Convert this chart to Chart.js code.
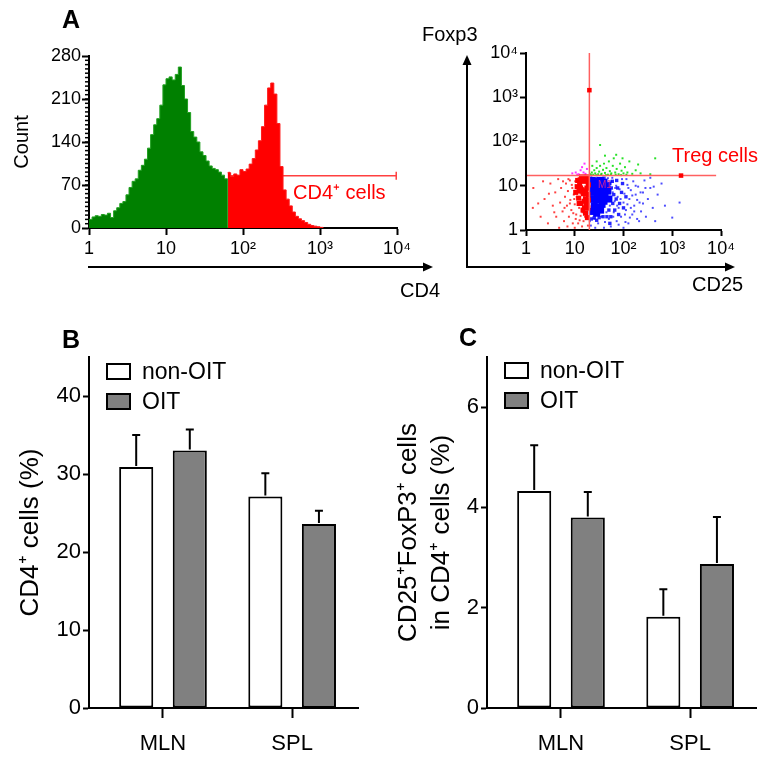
<!DOCTYPE html>
<html>
<head>
<meta charset="utf-8">
<script src="https://cdn.jsdelivr.net/npm/chart.js"></script>
<style>
  body { margin: 0; background: #fff; }
  #wrap { position: relative; width: 769px; height: 760px; overflow: hidden; font-family: "Liberation Sans", Arial, sans-serif; }
  canvas { position: absolute; }
  .panel { position: absolute; font-weight: bold; font-size: 25px; line-height: 1; }
</style>
</head>
<body>
<div id="wrap">
  <canvas id="histChart" width="460" height="300" style="left:0px;top:0px"></canvas>
  <canvas id="dotChart" width="359" height="300" style="left:410px;top:0px"></canvas>
  <canvas id="cd4Chart" width="384" height="460" style="left:0px;top:300px"></canvas>
  <canvas id="tregChart" width="385" height="460" style="left:384px;top:300px"></canvas>
  <div class="panel" style="left:62px;top:7px">A</div>
  <div class="panel" style="left:62px;top:327px">B</div>
  <div class="panel" style="left:459px;top:325px">C</div>
</div>
<script>
const FONT = "'Liberation Sans', Arial, sans-serif";
Chart.defaults.font.family = FONT;
Chart.defaults.color = '#000';

// ---- A left: CD4 histogram, x in decades (0 = 1, 4 = 10^4) ----
const decadeLabels = ['1', '10', '10²', '10³', '10⁴'];
const countTicks = [0, 70, 140, 210, 280];
const binWidth = 0.04;
const greenStart = 0;
const greenCounts = [14, 18, 20, 19, 22, 21, 24, 17, 28, 33, 40, 43, 54, 66, 76, 80, 94, 102, 112, 130,
  152, 168, 178, 200, 233, 243, 246, 241, 250, 262, 232, 210, 188, 157, 148, 140, 124, 118, 109, 101,
  97, 95, 91, 86, 80];
const redStart = 1.8;
const redCounts = [90, 84, 88, 86, 95, 92, 96, 104, 113, 127, 142, 165, 200, 228, 236, 218, 170, 100, 62, 47,
  36, 26, 19, 15, 12, 9, 6, 4, 3, 2, 1];
const cd4Gate = [1.82, 3.99];
const cd4GateLevel = 85;

// ---- A right: CD25 / Foxp3 dot plot, both in decades ----
const redDots = [[0.15,0.95],[0.14,0.5],[0.3,0.3],[0.45,0.15],[0.38,0.7],[0.5,1.05],[0.55,0.55],[0.6,0.85],[0.62,0.3],[0.66,1.15],
  [0.7,0.62],[0.72,0.95],[0.75,0.42],[0.78,0.2],[0.8,0.75],[0.82,1.05],[0.84,0.55],[0.86,0.88],[0.88,0.3],[0.9,1.12],
  [0.91,0.68],[0.93,0.45],[0.95,0.95],[0.96,0.15],[0.98,0.8],[1.0,0.58],[1.01,1.1],[1.03,0.35],[1.05,0.9],[1.06,0.7],
  [1.08,1.18],[1.09,0.5],[1.1,0.22],[1.12,0.82],[1.13,1.0],[1.15,0.62],[1.16,0.4],[1.18,0.95],[1.19,0.75],[1.2,1.15],
  [1.21,0.3],[1.22,0.55],[1.23,0.85],[1.24,1.05],[1.25,0.65],[1.26,0.45],[1.27,0.1],[1.28,0.92],[1.28,0.72],[1.29,1.18],
  [0.68,0.05],[0.85,0.08],[1.0,0.05],[1.15,0.08],[0.58,0.4],[0.47,0.82],[0.35,1.1],[0.25,0.6],[0.9,0.6],[1.04,0.75],
  [0.94,1.02],[0.97,0.38],[1.02,0.25],[1.07,0.15],[0.99,0.7],[0.87,1.15],[0.79,0.5],[0.76,1.1],[1.12,0.32],[1.18,0.2]];
const redCore = [[1.1,1.05],[1.15,0.9],[1.2,1.1],[1.25,0.95],[1.27,0.8],[1.22,0.7],[1.18,0.82],[1.12,0.95],[1.26,1.12],
  [1.24,0.6],[1.16,1.15],[1.05,0.98],[1.28,0.68],[1.2,0.5],[1.02,0.85],[1.08,0.72],[1.13,0.6],[1.17,0.45],[1.22,0.38],
  [1.27,0.5],[1.1,0.88],[1.06,1.12],[1.14,1.2],[1.24,1.2],[1.28,1.02],[1.19,0.65],[1.23,0.88],[1.09,0.6],[1.26,0.28]];
const blueCore = [[1.36,1.12],[1.44,1.1],[1.52,1.12],[1.6,1.08],[1.36,1.0],[1.42,0.95],[1.5,1.0],[1.58,0.95],[1.66,1.0],
  [1.38,0.85],[1.46,0.82],[1.54,0.86],[1.62,0.8],[1.36,0.7],[1.44,0.68],[1.52,0.72],[1.6,0.65],[1.4,0.55],[1.48,0.52],
  [1.56,0.58],[1.36,0.42],[1.45,0.38],[1.53,0.45],[1.68,0.88],[1.7,0.7]];
const blueMid = [[1.75,0.95],[1.78,0.6],[1.8,0.8],[1.82,0.45],[1.85,0.7],[1.88,0.95],[1.9,0.35],[1.74,0.3],[1.92,0.6],
  [1.96,0.85],[2.0,0.5],[1.77,1.1],[1.72,1.05],[1.7,0.45],[1.66,0.3],[1.58,0.3],[1.5,0.28],[1.4,0.28],[2.05,0.75],
  [1.98,1.05],[1.34,0.25],[1.45,0.22],[1.6,1.17],[1.72,0.15],[1.86,1.12]];
const blueDots = [[1.31,0.2],[1.33,0.1],[1.4,0.25],[1.48,0.15],[1.55,0.3],[1.6,0.05],[1.65,0.4],[1.7,0.25],[1.72,0.55],[1.75,1.1],
  [1.78,0.85],[1.8,0.4],[1.82,0.65],[1.85,1.0],[1.86,0.2],[1.88,0.75],[1.9,0.5],[1.92,0.92],[1.95,0.3],[1.97,1.15],
  [2.0,0.62],[2.02,0.82],[2.05,0.45],[2.08,1.02],[2.1,0.15],[2.12,0.7],[2.15,0.9],[2.18,0.35],[2.2,1.1],[2.22,0.55],
  [2.25,0.8],[2.28,0.25],[2.3,0.98],[2.33,0.62],[2.36,0.42],[2.4,0.85],[2.43,1.12],[2.46,0.3],[2.5,0.7],[2.55,0.95],
  [2.6,0.5],[2.65,0.2],[2.7,0.8],[2.78,1.05],[2.85,0.55],[3.0,0.28],[3.15,0.62],[2.55,1.18],[1.74,0.08],[1.9,0.12],
  [2.0,0.05],[1.62,0.18],[1.42,0.05],[1.77,1.18],[1.83,0.95],[1.94,0.7],[2.06,1.15],[2.15,0.5],[2.32,0.2],[2.4,0.6],
  [1.68,1.17],[1.58,1.17],[1.46,1.18],[1.34,1.19],[1.79,0.3],[1.87,0.55],[2.03,0.35],[2.25,1.0],[2.45,0.95],[2.62,0.98],
  [2.08,0.58],[2.13,0.28],[2.18,0.78],[2.1,0.95],[2.04,0.18],[2.22,0.42],[2.28,0.68],[2.35,0.85]];
const greenDots = [[1.32,1.26],[1.35,1.3],[1.38,1.25],[1.4,1.35],[1.42,1.28],[1.45,1.4],[1.48,1.26],[1.5,1.32],[1.52,1.45],[1.55,1.27],
  [1.58,1.36],[1.6,1.5],[1.62,1.29],[1.65,1.4],[1.68,1.25],[1.7,1.55],[1.72,1.33],[1.75,1.28],[1.78,1.45],[1.8,1.62],
  [1.83,1.3],[1.86,1.38],[1.9,1.26],[1.93,1.5],[1.96,1.34],[2.0,1.28],[2.03,1.42],[2.08,1.3],[2.12,1.55],[2.18,1.27],
  [2.25,1.35],[2.35,1.28],[2.55,1.26],[2.65,1.62],[1.62,1.68],[1.52,1.92],[1.85,1.7],[1.45,1.55],[1.36,1.45],[1.98,1.62],
  [2.3,1.48],[1.34,1.24],[1.44,1.24],[1.54,1.25],[1.64,1.24],[1.74,1.25],[1.84,1.25],[1.95,1.24],[2.06,1.25]];
const pinkDots = [[0.95,1.28],[1.02,1.3],[1.08,1.26],[1.12,1.35],[1.15,1.42],[1.18,1.3],[1.22,1.27],[1.25,1.38],[1.05,1.25],[1.2,1.5]];
const cd25Gate = 1.30;
const foxp3Gate = 1.23;
const gateHandles = [[1.30, 3.16], [3.18, 1.23]];

// ---- B and C: bar charts ----
const groups = ['MLN', 'SPL'];
const cd4NonOIT = [30.9, 27.1];
const cd4NonOITErr = [4.1, 3.0];
const cd4OIT = [33.0, 23.6];
const cd4OITErr = [2.7, 1.7];
const cd4Ticks = [0, 10, 20, 30, 40];
const tregNonOIT = [4.33, 1.82];
const tregNonOITErr = [0.91, 0.55];
const tregOIT = [3.80, 2.87];
const tregOITErr = [0.51, 0.94];
const tregTicks = [0, 2, 4, 6];

const toSteps = (start, counts) => {
  const pts = counts.map((c, i) => ({ x: start + i * binWidth, y: c }));
  pts.push({ x: start + counts.length * binWidth, y: 0 });
  return pts;
};
const toXY = (pairs) => pairs.map(p => ({ x: p[0], y: p[1] }));

const arrow = (ctx, x1, y1, x2, y2) => {
  const a = Math.atan2(y2 - y1, x2 - x1);
  ctx.beginPath(); ctx.moveTo(x1, y1); ctx.lineTo(x2 - 6 * Math.cos(a), y2 - 6 * Math.sin(a)); ctx.stroke();
  ctx.beginPath();
  ctx.moveTo(x2, y2);
  ctx.lineTo(x2 - 10 * Math.cos(a) + 4.5 * Math.sin(a), y2 - 10 * Math.sin(a) - 4.5 * Math.cos(a));
  ctx.lineTo(x2 - 10 * Math.cos(a) - 4.5 * Math.sin(a), y2 - 10 * Math.sin(a) + 4.5 * Math.cos(a));
  ctx.closePath(); ctx.fill();
};

const axisLine = { color: '#000', width: 2 };
const tickFont = (size) => ({ family: FONT, size: size });

// histogram
const minorTicks = {
  id: 'minorTicks',
  afterDraw(chart) {
    const y = chart.scales.y, ctx = chart.ctx;
    ctx.save(); ctx.strokeStyle = '#000'; ctx.lineWidth = 1.5;
    for (let v = 7; v < y.max; v += 7) {
      const py = y.getPixelForValue(v);
      ctx.beginPath(); ctx.moveTo(y.right - 4, py); ctx.lineTo(y.right, py); ctx.stroke();
    }
    ctx.restore();
  }
};
const histExtras = {
  id: 'histExtras',
  afterDraw(chart) {
    const ctx = chart.ctx;
    ctx.save();
    ctx.strokeStyle = '#000'; ctx.fillStyle = '#000'; ctx.lineWidth = 2;
    arrow(ctx, 88, 267, 433, 267);
    ctx.font = '20px ' + FONT; ctx.textBaseline = 'middle';
    ctx.fillText('CD4', 400, 291);
    ctx.fillStyle = '#ff0000';
    ctx.fillText('CD4⁺ cells', 293, 193);
    ctx.restore();
  }
};

new Chart(document.getElementById('histChart'), {
  type: 'line',
  data: {
    datasets: [
      { data: toSteps(greenStart, greenCounts), stepped: true, fill: 'origin', backgroundColor: '#008000',
        borderColor: '#20a020', borderWidth: 1, pointRadius: 0, order: 1 },
      { data: toSteps(redStart, redCounts), stepped: true, fill: 'origin', backgroundColor: '#ff0000',
        borderColor: '#ff1a1a', borderWidth: 1, pointRadius: 0, order: 1 },
      { data: cd4Gate.map(x => ({ x: x, y: cd4GateLevel })), borderColor: '#ff4040', borderWidth: 1.5,
        pointStyle: 'line', rotation: 90, pointRadius: 4, pointBorderWidth: 1.5, pointBorderColor: '#ff4040', order: 2 }
    ]
  },
  options: {
    responsive: false, animation: false, events: [],
    layout: { padding: { left: 0, top: 56, right: 63, bottom: 0 } },
    plugins: { legend: { display: false }, tooltip: { enabled: false } },
    scales: {
      x: {
        type: 'linear', min: 0, max: 4,
        afterBuildTicks: s => { s.ticks = decadeLabels.map((_, i) => ({ value: i })); },
        afterFit: s => { s.height = 72; },
        border: axisLine,
        grid: { drawOnChartArea: false, tickColor: '#000', tickLength: 7, tickWidth: 2 },
        ticks: { font: tickFont(18), padding: 3, maxRotation: 0, callback: v => decadeLabels[v] }
      },
      y: {
        min: 0, max: 280,
        afterBuildTicks: s => { s.ticks = countTicks.map(v => ({ value: v })); },
        afterFit: s => { s.width = 89; },
        border: axisLine,
        grid: { drawOnChartArea: false, tickColor: '#000', tickLength: 7, tickWidth: 2 },
        ticks: { font: tickFont(18), padding: 1 },
        title: { display: true, text: 'Count', font: { family: FONT, size: 20 }, padding: { top: 10, bottom: 0 } }
      }
    }
  },
  plugins: [minorTicks, histExtras]
});

// dot plot
const dotExtras = {
  id: 'dotExtras',
  afterDraw(chart) {
    const ctx = chart.ctx;
    ctx.save();
    ctx.strokeStyle = '#000'; ctx.fillStyle = '#000'; ctx.lineWidth = 2;
    arrow(ctx, 57, 267, 57, 55);
    arrow(ctx, 56, 267, 325, 267);
    ctx.font = '20px ' + FONT; ctx.textBaseline = 'middle';
    ctx.fillText('Foxp3', 12, 35);
    ctx.fillText('CD25', 282, 285);
    ctx.fillStyle = '#ff0000';
    ctx.fillText('Treg cells', 262, 156);
    ctx.fillStyle = '#d0209a'; ctx.font = '10px ' + FONT;
    ctx.fillText('M1', 188, 185);
    ctx.restore();
  }
};
const dots = (pairs, color, r) => ({ data: toXY(pairs), backgroundColor: color, pointStyle: 'rect',
  pointRadius: r, pointBorderWidth: 0, borderWidth: 0, order: 3 });

new Chart(document.getElementById('dotChart'), {
  type: 'scatter',
  data: {
    datasets: [
      dots(redDots, 'rgba(255,0,0,0.75)', 1.4),
      dots(redCore, '#ff0000', 3.6),
      dots(blueDots, 'rgba(0,0,255,0.7)', 1.4),
      dots(blueMid, 'rgba(0,0,255,0.85)', 2.4),
      dots(blueCore, '#0000ff', 5),
      dots(greenDots, 'rgba(0,220,0,0.85)', 1.4),
      dots(pinkDots, 'rgba(255,0,255,0.8)', 1.4),
      { data: [{ x: cd25Gate, y: 0 }, { x: cd25Gate, y: 4 }], showLine: true, borderColor: '#ff6060',
        borderWidth: 1.5, pointRadius: 0, order: 1 },
      { data: [{ x: 0.02, y: foxp3Gate }, { x: 3.9, y: foxp3Gate }], showLine: true, borderColor: '#ff6060',
        borderWidth: 1.5, pointRadius: 0, order: 1 },
      { data: toXY(gateHandles), backgroundColor: '#ff0000', pointStyle: 'rect', pointRadius: 3.2,
        pointBorderWidth: 0, order: 0 }
    ]
  },
  options: {
    responsive: false, animation: false, events: [],
    layout: { padding: { left: 0, top: 53, right: 48, bottom: 0 } },
    plugins: { legend: { display: false }, tooltip: { enabled: false } },
    scales: {
      x: {
        type: 'linear', min: 0, max: 4,
        afterBuildTicks: s => { s.ticks = decadeLabels.map((_, i) => ({ value: i })); },
        afterFit: s => { s.height = 70; },
        border: axisLine,
        grid: { drawOnChartArea: false, tickColor: '#000', tickLength: 6, tickWidth: 2 },
        ticks: { font: tickFont(18), padding: 2, maxRotation: 0, callback: v => decadeLabels[v] }
      },
      y: {
        type: 'linear', min: 0, max: 4,
        afterBuildTicks: s => { s.ticks = decadeLabels.map((_, i) => ({ value: i })); },
        afterFit: s => { s.width = 116; },
        border: axisLine,
        grid: { drawOnChartArea: false, tickColor: '#000', tickLength: 6, tickWidth: 2 },
        ticks: { font: tickFont(18), padding: 2, callback: v => decadeLabels[v] }
      }
    }
  },
  plugins: [dotExtras]
});

// bar charts with one-sided error bars
const errorBars = {
  id: 'errorBars',
  afterDatasetsDraw(chart) {
    const ctx = chart.ctx, y = chart.scales.y;
    ctx.save(); ctx.strokeStyle = '#000'; ctx.lineWidth = 2;
    chart.data.datasets.forEach((ds, i) => {
      chart.getDatasetMeta(i).data.forEach((bar, j) => {
        const top = y.getPixelForValue(ds.data[j].y + ds.err[j]);
        ctx.beginPath();
        ctx.moveTo(bar.x, bar.y - 1); ctx.lineTo(bar.x, top);
        ctx.moveTo(bar.x - 4, top); ctx.lineTo(bar.x + 4, top);
        ctx.stroke();
      });
    });
    ctx.restore();
  }
};
const boxLegend = {
  id: 'boxLegend',
  afterDraw(chart, args, o) {
    const ctx = chart.ctx;
    ctx.save();
    chart.data.datasets.forEach((ds, i) => {
      const y = o.y + i * 30;
      ctx.fillStyle = ds.backgroundColor; ctx.fillRect(o.x, y, 23, 15);
      ctx.lineWidth = 2; ctx.strokeStyle = '#000'; ctx.strokeRect(o.x, y, 23, 15);
      ctx.fillStyle = '#000'; ctx.font = '23px ' + FONT; ctx.textBaseline = 'middle';
      ctx.fillText(ds.label, o.x + 35, y + 9);
    });
    ctx.restore();
  }
};

const makeBarChart = (id, cfg) => new Chart(document.getElementById(id), {
  type: 'bar',
  data: {
    datasets: [
      { label: 'non-OIT', data: cfg.non.map((v, i) => ({ x: i, y: v })), err: cfg.nonErr,
        backgroundColor: '#ffffff', borderColor: '#000', borderWidth: 2, borderSkipped: false },
      { label: 'OIT', data: cfg.oit.map((v, i) => ({ x: i, y: v })), err: cfg.oitErr,
        backgroundColor: '#808080', borderColor: '#000', borderWidth: 2, borderSkipped: false }
    ]
  },
  options: {
    responsive: false, animation: false, events: [],
    categoryPercentage: 0.83, barPercentage: 0.636,
    layout: { padding: { left: 0, top: 57, right: cfg.padRight, bottom: 0 } },
    plugins: { legend: { display: false }, tooltip: { enabled: false }, boxLegend: cfg.legend },
    scales: {
      x: {
        type: 'linear', min: -0.573, max: 1.51, offset: false,
        afterBuildTicks: s => { s.ticks = groups.map((_, i) => ({ value: i })); },
        afterFit: s => { s.height = 52; },
        border: axisLine,
        grid: { offset: false, drawOnChartArea: false, tickColor: '#000', tickLength: 10, tickWidth: 2 },
        ticks: { font: tickFont(22), padding: 13, maxRotation: 0, callback: v => groups[v] }
      },
      y: {
        min: 0, max: cfg.max,
        afterBuildTicks: s => { s.ticks = cfg.ticks.map(v => ({ value: v })); },
        afterFit: s => { s.width = cfg.axisWidth; },
        border: axisLine,
        grid: { drawOnChartArea: false, tickColor: '#000', tickLength: 6, tickWidth: 2 },
        ticks: { font: tickFont(22), padding: 2 },
        title: { display: true, text: cfg.title, font: { family: FONT, size: 26, lineHeight: cfg.titleLH },
          padding: { top: cfg.titlePad, bottom: 0 } }
      }
    }
  },
  plugins: [errorBars, boxLegend]
});

makeBarChart('cd4Chart', {
  non: cd4NonOIT, nonErr: cd4NonOITErr, oit: cd4OIT, oitErr: cd4OITErr,
  max: 45, ticks: cd4Ticks, axisWidth: 89, padRight: 26,
  title: 'CD4⁺ cells (%)', titleLH: 1.2, titlePad: 15,
  legend: { x: 107, y: 64 }
});
makeBarChart('tregChart', {
  non: tregNonOIT, nonErr: tregNonOITErr, oit: tregOIT, oitErr: tregOITErr,
  max: 7, ticks: tregTicks, axisWidth: 103, padRight: 13,
  title: ['CD25⁺FoxP3⁺ cells', 'in CD4⁺ cells (%)'], titleLH: 1.27, titlePad: 8,
  legend: { x: 121, y: 63 }
});
</script>
</body>
</html>
